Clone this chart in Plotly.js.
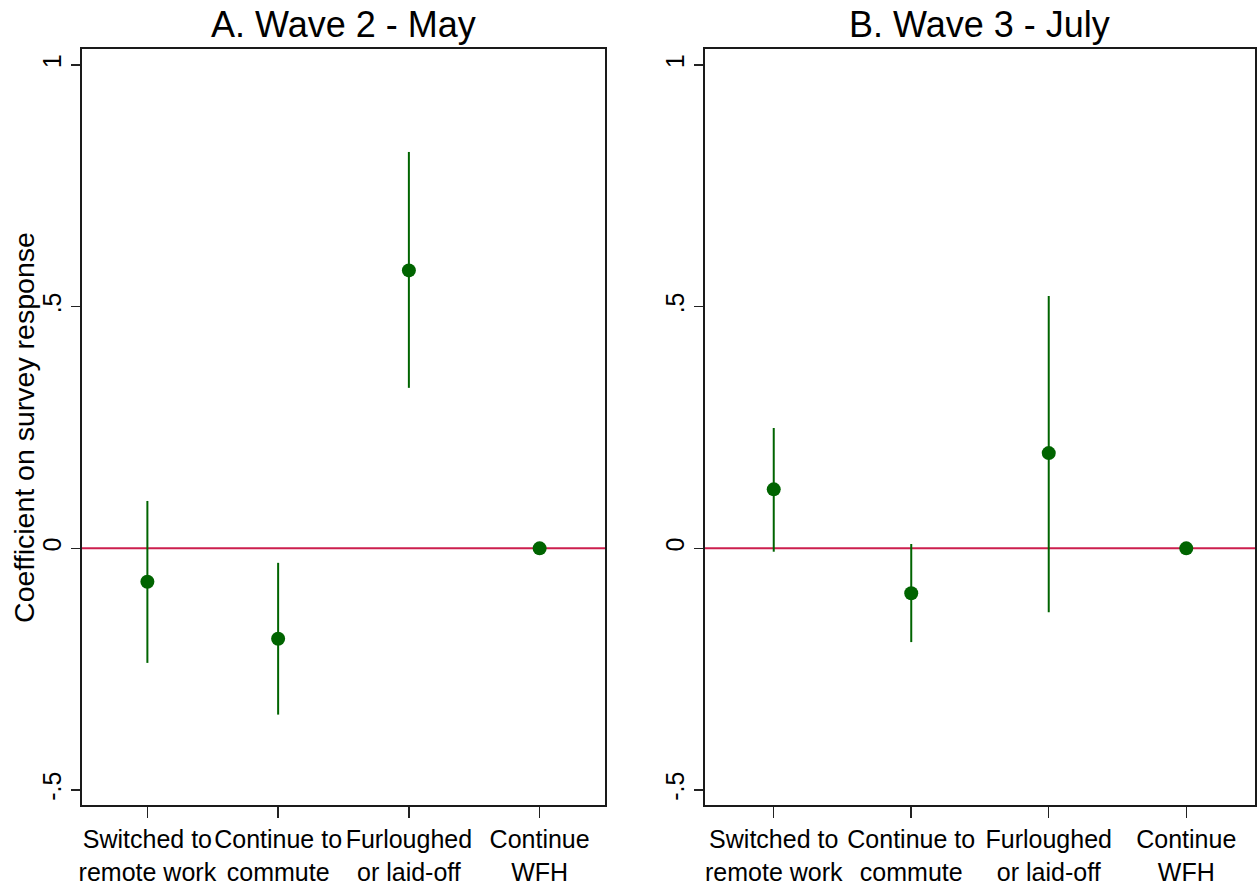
<!DOCTYPE html>
<html>
<head>
<meta charset="utf-8">
<script src="https://cdn.plot.ly/plotly-3.0.1.min.js"></script>
<style>html,body{margin:0;padding:0;background:#fff;}#chart{width:1260px;height:884px;}</style>
</head>
<body>
<div id="chart"></div>
<script>
const categories = ["Switched to<br>remote work", "Continue to<br>commute", "Furloughed<br>or laid-off", "Continue<br>WFH"];
const catPos = [1, 2, 3, 4];
const yTickVals = [-0.5, 0, 0.5, 1];
const yTickText = ["-.5", "0", ".5", "1"];

const mayCoef = [-0.069, -0.187, 0.575, 0];
const mayLow  = [-0.237, -0.344, 0.332, 0];
const mayHigh = [0.098, -0.030, 0.820, 0];

const julyCoef = [0.122, -0.093, 0.197, 0];
const julyLow  = [-0.007, -0.194, -0.132, 0];
const julyHigh = [0.249, 0.009, 0.522, 0];

const panelTitles = ["A. Wave 2 - May", "B. Wave 3 - July"];
const yTitle = "Coefficient on survey response";

const green = "#006400";
const FONT = "Liberation Sans, Arial, Helvetica, sans-serif";

function ciTrace(coef, lo, hi, xa, ya) {
  return {
    type: "scatter", mode: "markers", x: catPos, y: coef, xaxis: xa, yaxis: ya,
    marker: {color: green, size: 14},
    error_y: {type: "data", symmetric: false,
      array: hi.map((h, i) => h - coef[i]),
      arrayminus: coef.map((c, i) => c - lo[i]),
      color: green, thickness: 2, width: 0},
    showlegend: false, hoverinfo: "x+y"
  };
}

const data = [ciTrace(mayCoef, mayLow, mayHigh, "x", "y"), ciTrace(julyCoef, julyLow, julyHigh, "x2", "y2")];

function xAxis(domain, anchor) {
  return {domain: domain, anchor: anchor, range: [0.5, 4.5], tickvals: catPos, ticktext: categories,
    tickangle: 0, ticks: "outside", ticklen: 11, tickwidth: 1.5, tickcolor: "#222",
    showline: true, mirror: true, linecolor: "#1a1a1a", linewidth: 2, showgrid: false, zeroline: false,
    tickfont: {family: FONT, size: 25, color: "#000"}, fixedrange: true};
}
function yAxis(anchor) {
  return {anchor: anchor, domain: [0, 1], range: [-0.531, 1.033], tickvals: yTickVals, ticktext: yTickText,
    tickangle: -90, ticks: "outside", ticklen: 9, tickwidth: 1.5, tickcolor: "#222",
    showline: true, mirror: true, linecolor: "#1a1a1a", linewidth: 2, showgrid: false, zeroline: false,
    tickfont: {family: FONT, size: 25, color: "#000"}, fixedrange: true};
}

const dom1 = [0, 0.44587], dom2 = [0.53111, 1];
const layout = {
  width: 1260, height: 884,
  margin: {l: 82, r: 5, t: 49, b: 79},
  paper_bgcolor: "#fff", plot_bgcolor: "#fff",
  xaxis: xAxis(dom1, "y"), yaxis: yAxis("x"),
  xaxis2: xAxis(dom2, "y2"), yaxis2: yAxis("x2"),
  shapes: [
    {type: "line", xref: "x domain", yref: "y", x0: 0, x1: 1, y0: 0, y1: 0, line: {color: "#cc1f4e", width: 2}, layer: "below"},
    {type: "line", xref: "x2 domain", yref: "y2", x0: 0, x1: 1, y0: 0, y1: 0, line: {color: "#cc1f4e", width: 2}, layer: "below"}
  ],
  annotations: [
    {text: panelTitles[0], xref: "paper", yref: "paper", x: (dom1[0] + dom1[1]) / 2, y: 1, xanchor: "center", yanchor: "bottom", yshift: 2, showarrow: false, font: {family: FONT, size: 36, color: "#000"}},
    {text: panelTitles[1], xref: "paper", yref: "paper", x: (dom2[0] + dom2[1]) / 2, y: 1, xanchor: "center", yanchor: "bottom", yshift: 2, showarrow: false, font: {family: FONT, size: 36, color: "#000"}},
    {text: yTitle, xref: "paper", yref: "paper", x: -0.0495, y: 0.5, xanchor: "center", yanchor: "middle", textangle: -90, showarrow: false, font: {family: FONT, size: 28.5, color: "#000"}}
  ]
};

Plotly.newPlot("chart", data, layout, {staticPlot: true, displayModeBar: false});
</script>
</body>
</html>
